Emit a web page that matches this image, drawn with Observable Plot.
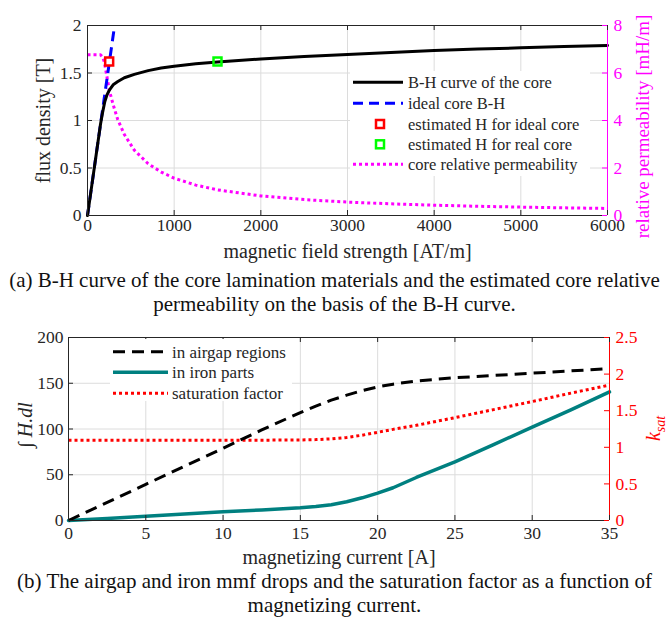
<!DOCTYPE html>
<html><head><meta charset="utf-8">
<script src="https://cdn.jsdelivr.net/npm/d3@7"></script>
<script src="https://cdn.jsdelivr.net/npm/@observablehq/plot@0.6"></script>
<style>
body{margin:0;background:#fff;}
#fig{position:relative;width:669px;height:625px;font-family:"Liberation Serif","Times New Roman",serif;color:#000;}
.cap{position:absolute;left:0;width:669px;text-align:center;font-size:21px;line-height:24px;white-space:nowrap;color:#111;}
#pa{position:absolute;left:0;top:0;}
#pb{position:absolute;left:0;top:312px;}
</style></head><body>
<div id="fig">
  <div id="pa"></div>
  <div class="cap" id="capA" style="top:268px">(a) B-H curve of the core lamination materials and the estimated core relative<br>permeability on the basis of the B-H curve.</div>
  <div id="pb"></div>
  <div class="cap" id="capB" style="top:569px">(b) The airgap and iron mmf drops and the saturation factor as a function of<br>magnetizing current.</div>
</div>
<script>
// ---------- Panel (a) data ----------
const hTicks = [0, 1000, 2000, 3000, 4000, 5000, 6000];
const bTicks = [0, 0.5, 1, 1.5, 2];
const muTicks = [0, 2, 4, 6, 8];
const bhH = [0, 50, 100, 150, 173, 200, 225, 250, 300, 350, 425, 540, 700, 850, 1000, 1250, 1500, 2000, 2500, 3000, 3500, 4000, 4500, 5000, 5500, 6000];
const bhB = [0, 0.32, 0.64, 0.96, 1.08, 1.2, 1.27, 1.316, 1.38, 1.41, 1.45, 1.485, 1.525, 1.552, 1.572, 1.597, 1.615, 1.648, 1.673, 1.695, 1.717, 1.737, 1.752, 1.765, 1.778, 1.79];
const idealH = [0, 308];
const idealB = [0, 1.97];
const muH = [0, 100, 150, 175, 195, 212, 231, 250, 290, 310, 350, 425, 540, 700, 850, 1000, 1250, 1500, 2000, 2500, 3000, 3500, 4000, 4500, 5000, 5500, 6000];
const muVal = [6.77, 6.77, 6.77, 6.67, 6.45, 6.1, 5.7, 5.3, 4.75, 4.5, 4.03, 3.41, 2.75, 2.18, 1.83, 1.57, 1.28, 1.08, 0.824, 0.669, 0.565, 0.491, 0.434, 0.389, 0.353, 0.323, 0.298];
const estIdeal = {h: 250, b: 1.62};
const estReal = {h: 1500, b: 1.62};
const legendA = ["B-H curve of the core", "ideal core B-H", "estimated H for ideal core", "estimated H for real core", "core relative permeability"];

// ---------- Panel (b) data ----------
const iTicks = [0, 5, 10, 15, 20, 25, 30, 35];
const mmfTicks = [0, 50, 100, 150, 200];
const kTicks = [0, 0.5, 1, 1.5, 2, 2.5];
const airI = [0, 5, 10, 12.5, 15, 16, 17, 18, 19, 20, 21, 22.5, 25, 27.5, 30, 32.5, 35];
const airV = [0, 39.5, 79, 99, 118, 125, 131.5, 137, 142, 146, 149, 152.5, 156, 158.5, 161, 163.5, 166];
const ironI = [0, 2.5, 5, 7.5, 10, 12.5, 15, 16, 17, 18, 19, 20, 21, 22.5, 25, 27.5, 30, 32.5, 35];
const ironV = [0, 2.3, 4.7, 7, 9.5, 11.5, 13.9, 15.3, 17.3, 20.5, 24.8, 29.9, 35.8, 47, 64, 83, 102, 121, 140.5];
const kI = [0, 5, 10, 15, 16, 17, 18, 19, 20, 21, 22.5, 25, 27.5, 30, 32.5, 35];
const kV = [1.095, 1.095, 1.095, 1.1, 1.105, 1.115, 1.135, 1.165, 1.205, 1.245, 1.3, 1.405, 1.515, 1.625, 1.74, 1.85];
const legendB = ["in airgap regions", "in iron parts", "saturation factor"];

const MAG = "#ff00ff", BLUE = "#0000ff", RED = "#ff0000", TEAL = "#008080", GRID = "#dcdcdc", AX = "#262626";
const FONT = "Liberation Serif, Times New Roman, serif";
const zip = (xs, ys) => xs.map((x, i) => ({x, y: ys[i]}));

// ---------- Plot (a) ----------
const A = {w: 669, h: 268, l: 87, r: 62, t: 25, b: 53};
const aPW = A.w - A.l - A.r, aPH = A.h - A.t - A.b;
const bMax = bTicks[bTicks.length - 1], muMax = muTicks[muTicks.length - 1];
const muToB = d => d * bMax / muMax;
const xDomA = [hTicks[0], hTicks[hTicks.length - 1]];
const yDomA = [bTicks[0], bMax];

const plotA = Plot.plot({
  width: A.w, height: A.h, marginLeft: A.l, marginRight: A.r, marginTop: A.t, marginBottom: A.b,
  style: {fontFamily: FONT, fontSize: "17.5px", overflow: "visible", background: "transparent"},
  x: {domain: xDomA, axis: null},
  y: {domain: yDomA, axis: null},
  marks: [
    Plot.ruleX(hTicks, {x: d => d, stroke: GRID}),
    Plot.ruleY(bTicks, {y: d => d, stroke: GRID}),
    Plot.line(zip(muH, muVal), {x: "x", y: d => muToB(d.y), stroke: MAG, strokeWidth: 3, strokeDasharray: "3,3", strokeLinecap: "butt"}),
    Plot.line(zip(idealH, idealB), {x: "x", y: "y", stroke: BLUE, strokeWidth: 3, strokeDasharray: "10,6", strokeLinecap: "butt"}),
    Plot.line(zip(bhH, bhB), {x: "x", y: "y", stroke: "#000", strokeWidth: 3}),
    Plot.dot([estIdeal], {x: "h", y: "b", symbol: "square", r: 4.5, stroke: RED, fill: "white", strokeWidth: 2.5}),
    Plot.dot([estReal], {x: "h", y: "b", symbol: "square", r: 4.5, stroke: "#00ff00", fill: "none", strokeWidth: 2.5}),
    Plot.ruleY([yDomA[0]], {y: d => d, stroke: AX}),
    Plot.ruleY([yDomA[1]], {y: d => d, stroke: AX}),
    Plot.ruleX([xDomA[0]], {x: d => d, stroke: AX}),
    Plot.ruleX([xDomA[1]], {x: d => d, stroke: MAG}),
    Plot.ruleX(hTicks, {x: d => d, stroke: AX, insetTop: aPH - 5}),
    Plot.ruleX(hTicks, {x: d => d, stroke: AX, insetBottom: aPH - 5}),
    Plot.ruleY(bTicks, {y: d => d, stroke: AX, insetRight: aPW - 5}),
    Plot.ruleY(muTicks, {y: muToB, stroke: MAG, insetLeft: aPW - 5}),
    Plot.text(hTicks, {x: d => d, frameAnchor: "bottom", dy: 15, text: d => String(d), fill: "#262626"}),
    Plot.text(bTicks, {y: d => d, frameAnchor: "left", dx: -6, textAnchor: "end", text: d => String(d), fill: "#262626"}),
    Plot.text(muTicks, {y: muToB, frameAnchor: "right", dx: 6, textAnchor: "start", text: d => String(d), fill: MAG}),
    Plot.text(["magnetic field strength [AT/m]"], {frameAnchor: "bottom", dy: 42, textAnchor: "middle", text: d => d, fontSize: 20, fill: "#262626"}),
    Plot.text(["flux density [T]"], {frameAnchor: "left", dx: -44, rotate: -90, textAnchor: "middle", text: d => d, fontSize: 20, fill: "#262626"}),
    Plot.text(["relative permeability [mH/m]"], {frameAnchor: "right", dx: 35, dy: 6, rotate: -90, textAnchor: "middle", text: d => d, fontSize: 19, fill: MAG})
  ]
});
document.getElementById("pa").appendChild(plotA);

{
  const svg = d3.select(plotA);
  const g = svg.append("g").attr("font-family", FONT).attr("font-size", 16.5).attr("text-anchor", "start");
  g.append("rect").attr("x", 350).attr("y", 71).attr("width", 240).attr("height", 105).attr("fill", "white");
  const rows = [82.3, 103.3, 124, 144.3, 164.3];
  const x0 = 353, x1 = 403, tx = 408;
  g.append("line").attr("x1", x0).attr("x2", x1).attr("y1", rows[0]).attr("y2", rows[0]).attr("stroke", "#000").attr("stroke-width", 3);
  g.append("line").attr("x1", x0).attr("x2", x1).attr("y1", rows[1]).attr("y2", rows[1]).attr("stroke", BLUE).attr("stroke-width", 3).attr("stroke-dasharray", "10,6");
  g.append("rect").attr("x", 376).attr("y", rows[2] - 4).attr("width", 8).attr("height", 8).attr("fill", "white").attr("stroke", RED).attr("stroke-width", 2.5);
  g.append("rect").attr("x", 376).attr("y", rows[3] - 4).attr("width", 8).attr("height", 8).attr("fill", "white").attr("stroke", "#00ff00").attr("stroke-width", 2.5);
  g.append("line").attr("x1", x0).attr("x2", x1).attr("y1", rows[4]).attr("y2", rows[4]).attr("stroke", MAG).attr("stroke-width", 3).attr("stroke-dasharray", "3,3");
  legendA.forEach((t, i) => g.append("text").attr("x", tx).attr("y", rows[i]).attr("dy", "0.35em").attr("fill", "#262626").text(t));
}

// ---------- Plot (b) ----------
const B = {w: 669, h: 256, l: 68, r: 60, t: 25, b: 48};
const bPW = B.w - B.l - B.r, bPH = B.h - B.t - B.b;
const mmfMax = mmfTicks[mmfTicks.length - 1], kMax = kTicks[kTicks.length - 1];
const kToM = d => d * mmfMax / kMax;
const xDomB = [iTicks[0], iTicks[iTicks.length - 1]];
const yDomB = [mmfTicks[0], mmfMax];

const plotB = Plot.plot({
  width: B.w, height: B.h, marginLeft: B.l, marginRight: B.r, marginTop: B.t, marginBottom: B.b,
  style: {fontFamily: FONT, fontSize: "17.5px", overflow: "visible", background: "transparent"},
  x: {domain: xDomB, axis: null},
  y: {domain: yDomB, axis: null},
  marks: [
    Plot.ruleX(iTicks, {x: d => d, stroke: GRID}),
    Plot.ruleY(mmfTicks, {y: d => d, stroke: GRID}),
    Plot.line(zip(kI, kV), {x: "x", y: d => kToM(d.y), stroke: RED, strokeWidth: 3, strokeDasharray: "3,3", strokeLinecap: "butt"}),
    Plot.line(zip(ironI, ironV), {x: "x", y: "y", stroke: TEAL, strokeWidth: 3.5}),
    Plot.line(zip(airI, airV), {x: "x", y: "y", stroke: "#000", strokeWidth: 3, strokeDasharray: "12,7", strokeLinecap: "butt"}),
    Plot.ruleY([yDomB[0]], {y: d => d, stroke: AX}),
    Plot.ruleY([yDomB[1]], {y: d => d, stroke: AX}),
    Plot.ruleX([xDomB[0]], {x: d => d, stroke: AX}),
    Plot.ruleX([xDomB[1]], {x: d => d, stroke: RED}),
    Plot.ruleX(iTicks, {x: d => d, stroke: AX, insetTop: bPH - 5}),
    Plot.ruleX(iTicks, {x: d => d, stroke: AX, insetBottom: bPH - 5}),
    Plot.ruleY(mmfTicks, {y: d => d, stroke: AX, insetRight: bPW - 5}),
    Plot.ruleY(kTicks, {y: kToM, stroke: RED, insetLeft: bPW - 5}),
    Plot.text(iTicks, {x: d => d, frameAnchor: "bottom", dy: 18, text: d => String(d), fill: "#262626"}),
    Plot.text(mmfTicks, {y: d => d, frameAnchor: "left", dx: -5, textAnchor: "end", text: d => String(d), fill: "#262626"}),
    Plot.text(kTicks, {y: kToM, frameAnchor: "right", dx: 6, textAnchor: "start", text: d => String(d), fill: RED}),
    Plot.text(["magnetizing current [A]"], {frameAnchor: "bottom", dy: 43, textAnchor: "middle", text: d => d, fontSize: 20, fill: "#262626"}),
    Plot.text(["\u222B H.dl"], {frameAnchor: "left", dx: -43, dy: -4, rotate: -90, textAnchor: "middle", text: d => d, fontSize: 20, fontStyle: "italic", fill: "#262626"})
  ]
});
document.getElementById("pb").appendChild(plotB);

{
  const svg = d3.select(plotB);
  const cx = B.w - B.r + 45, cy = B.t + bPH / 2;
  const t = svg.append("text").attr("transform", `translate(${cx},${cy}) rotate(-90)`).attr("text-anchor", "middle")
    .attr("font-family", FONT).attr("font-style", "italic").attr("fill", RED).attr("dy", "0.32em");
  t.append("tspan").attr("font-size", 20).text("k");
  t.append("tspan").attr("font-size", 14).attr("dy", 5).text("sat");
  const g = svg.append("g").attr("font-family", FONT).attr("font-size", 17).attr("text-anchor", "start");
  g.append("rect").attr("x", 110).attr("y", 27).attr("width", 182).attr("height", 62).attr("fill", "white");
  const rows = [39.7, 60.3, 81.3];
  const x0 = 113, x1 = 168, tx = 172;
  g.append("line").attr("x1", x0).attr("x2", x1).attr("y1", rows[0]).attr("y2", rows[0]).attr("stroke", "#000").attr("stroke-width", 3).attr("stroke-dasharray", "12,7");
  g.append("line").attr("x1", x0).attr("x2", x1).attr("y1", rows[1]).attr("y2", rows[1]).attr("stroke", TEAL).attr("stroke-width", 3.5);
  g.append("line").attr("x1", x0).attr("x2", x1).attr("y1", rows[2]).attr("y2", rows[2]).attr("stroke", RED).attr("stroke-width", 3).attr("stroke-dasharray", "3,3");
  legendB.forEach((s, i) => g.append("text").attr("x", tx).attr("y", rows[i]).attr("dy", "0.35em").attr("fill", "#262626").text(s));
}
</script>
</body></html>
